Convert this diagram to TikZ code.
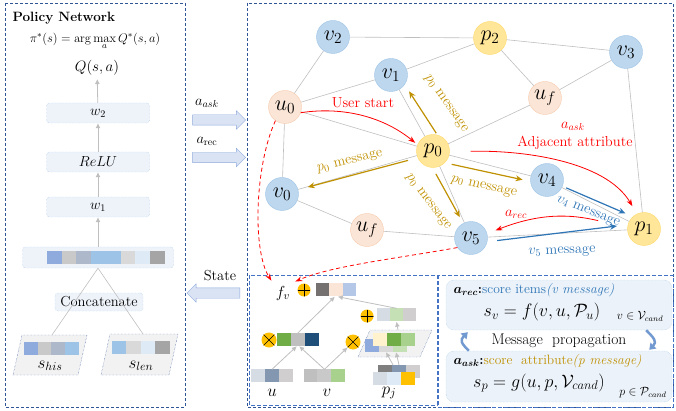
\RequirePackage{fix-cm}
\documentclass[tikz,border=0pt]{standalone}
\usepackage{bm}
\usetikzlibrary{arrows.meta,calc,shapes.geometric,shapes.arrows}

\definecolor{framedark}{HTML}{2F5597}
\definecolor{framemid}{HTML}{4472C4}
\definecolor{vfill}{HTML}{BDD7EE}
\definecolor{vdraw}{HTML}{9DC3E6}
\definecolor{pfill}{HTML}{FFE699}
\definecolor{pdraw}{HTML}{FFD966}
\definecolor{ufill}{HTML}{FBE5D6}
\definecolor{udraw}{HTML}{F8CBAD}
\definecolor{edgegray}{HTML}{BFBFBF}
\definecolor{msggold}{HTML}{BF9000}
\definecolor{msgblue}{HTML}{2E75B6}
\definecolor{boxfill}{HTML}{EEF3FA}
\definecolor{arrowfill}{HTML}{DAE3F3}
\definecolor{arrowline}{HTML}{8FAADC}
\definecolor{scorefill}{HTML}{EBF2F9}
\definecolor{parafill}{HTML}{F2F2F2}
% vector cells
\definecolor{bluecell}{HTML}{8FAADC}
\definecolor{graycell}{HTML}{C9C9C9}
\definecolor{slatecell}{HTML}{ADB9CA}
\definecolor{skycell}{HTML}{9DC3E6}
\definecolor{lightcell}{HTML}{D9D9D9}
\definecolor{palecell}{HTML}{DEEBF7}
\definecolor{darkcell}{HTML}{A5A5A5}
\definecolor{peachcell}{HTML}{FBE5D6}
\definecolor{steelcell}{HTML}{B4C7E7}
\definecolor{ashcell}{HTML}{767171}
\definecolor{mistcell}{HTML}{D6DCE4}
\definecolor{sagecell}{HTML}{C5E0B4}
\definecolor{stonecell}{HTML}{D0CECE}
\definecolor{greencell}{HTML}{70AD47}
\definecolor{silvercell}{HTML}{BFBFBF}
\definecolor{navycell}{HTML}{1F4E79}
\definecolor{creamcell}{HTML}{FFF2CC}
\definecolor{mintcell}{HTML}{A9D18E}
\definecolor{duskcell}{HTML}{8497B0}
\definecolor{dimcell}{HTML}{7F7F7F}
\definecolor{goldcell}{HTML}{FFC000}

\newcommand{\vecCells}[3]{%
  \foreach \c [count=\i from 0] in {#3}
    \fill[\c] ([xshift=\i*#2]#1.north west) rectangle ++(#2,13);}

\begin{document}
\begin{tikzpicture}[x=1pt,y=-1pt,
    every node/.style={font=\fontsize{14.5}{16}\selectfont},
    v node/.style={circle,draw=vdraw,fill=vfill,minimum size=33,inner sep=0,font=\fontsize{22}{22}\selectfont},
    p node/.style={v node,draw=pdraw,fill=pfill},
    u node/.style={v node,draw=udraw,fill=ufill},
    panel/.style={draw=framedark,dash pattern=on 3pt off 2pt,line width=0.7},
    sub panel/.style={draw=framemid,dash pattern=on 4pt off 2pt,line width=0.9},
    net box/.style={draw=vdraw,densely dotted,fill=boxfill,rounded corners=3,minimum width=103,minimum height=20,inner sep=0},
    vec/.style={inner sep=0,minimum height=13},
    slant box/.style={draw=framedark,densely dotted,fill=parafill},
    block arrow/.style={single arrow,draw=arrowline,fill=arrowfill,minimum height=53,minimum width=18,inner sep=5,single arrow head extend=4},
    gray edge/.style={draw=edgegray,line width=0.6},
    gray arrow/.style={draw=edgegray,line width=0.8,-{Latex[length=5pt,width=5pt]}},
    gold arrow/.style={draw=msggold,line width=1.2,-{Stealth[length=7pt,width=6pt]}},
    blue arrow/.style={draw=msgblue,line width=1.2,-{Stealth[length=7pt,width=6pt]}},
    gold label/.style={text=msggold,inner sep=0},
    blue label/.style={text=msgblue,inner sep=0},
    red arrow/.style={draw=red,line width=0.8,-{Stealth[length=7pt,width=5pt]}},
    red dashed/.style={red arrow,dash pattern=on 4pt off 3pt},
    score box/.style={draw=vdraw,densely dotted,fill=scorefill,rounded corners=8,minimum width=226,inner sep=0},
    prop arrow/.style={draw=arrowline!70!msgblue,line width=2.5,-{Triangle[length=6pt,width=8pt]}},
    sym/.style={circle,fill=goldcell,inner sep=0},
    oplus/.style={sym,minimum size=13,path picture={\draw[line width=0.6] (path picture bounding box.north) -- (path picture bounding box.south) (path picture bounding box.west) -- (path picture bounding box.east);}},
    otimes/.style={sym,minimum size=15,path picture={\draw[line width=0.6] (path picture bounding box.north west) -- (path picture bounding box.south east) (path picture bounding box.north east) -- (path picture bounding box.south west);}}]

  \useasboundingbox (0,0) rectangle (676,411);

  % policy network
  \draw[panel] (5,3) rectangle (185,407);
  \node[anchor=west,font=\fontsize{13.5}{15}\selectfont\bfseries] (title) at (9,18) {Policy Network};
  \node[font=\fontsize{12.5}{14}\selectfont] (policy) at (95,41) {$\pi^{*}(s)=\arg\max\limits_{a}Q^{*}(s,a)$};
  \node[font=\fontsize{15}{17}\selectfont] (qsa) at (97,68) {$Q(s,a)$};
  \node[net box] (w2) at (98,113) {$w_2$};
  \node[net box] (relu) at (98,162) {$ReLU$};
  \node[net box] (w1) at (98,207) {$w_1$};
  \node[net box,minimum width=151,minimum height=21] (state) at (98,257.5) {};
  \node[vec,minimum width=118] (staterow) at (106,258) {};
  \vecCells{staterow}{14.75}{bluecell,graycell,slatecell,skycell,skycell,lightcell,palecell,darkcell}
  \node[net box,minimum width=88,minimum height=18] (concat) at (99,302) {Concatenate};
  \filldraw[slant box] (13,375) -- (22,335) -- (87,335) -- (78,375) -- cycle;
  \coordinate (histop) at (52,335);
  \node[vec,minimum width=55] (hisrow) at (51.5,349) {};
  \vecCells{hisrow}{13.75}{bluecell,graycell,slatecell,skycell}
  \node[font=\fontsize{17}{17}\selectfont] (hislab) at (50,366) {$s_{his}$};
  \filldraw[slant box] (101,375) -- (110,334) -- (178,334) -- (169,375) -- cycle;
  \coordinate (lentop) at (143,334);
  \node[vec,minimum width=58] (lenrow) at (141,348) {};
  \vecCells{lenrow}{14.5}{skycell,lightcell,palecell,darkcell}
  \node[font=\fontsize{17}{17}\selectfont] (lenlab) at (141,366) {$s_{len}$};

  \draw[gray edge] (state.south) -- (histop);
  \draw[gray edge] (state.south) -- (lentop);
  \draw[gray arrow] (state) -- (w1);
  \draw[gray arrow] (w1) -- (relu);
  \draw[gray arrow] (relu) -- (w2);
  \draw[gray arrow] (w2) -- (qsa);

  % actions and state
  \node[block arrow] (ask) at (216.5,120) {};
  \node (asklab) at (207,103) {$a_{ask}$};
  \node[block arrow] (rec) at (216.5,157.5) {};
  \node (reclab) at (207,141) {$a_{\mathrm{rec}}$};
  \node[block arrow,shape border rotate=180] (back) at (216,293) {};
  \node (statelab) at (220,276) {State};

  % graph
  \draw[panel] (247,3) rectangle (673,407);
  \node[v node] (v2) at (333,37) {$v_2$};
  \node[p node] (p2) at (490,38) {$p_2$};
  \node[v node] (v3) at (626,52) {$v_3$};
  \node[v node] (v1) at (391,75) {$v_1$};
  \node[u node] (u0) at (285,107) {$u_0$};
  \node[u node] (uf1) at (545,98) {$u_f$};
  \node[p node] (p0) at (433,151) {$p_0$};
  \node[v node] (v0) at (282,194) {$v_0$};
  \node[u node] (uf2) at (367,230) {$u_f$};
  \node[v node] (v4) at (547,180) {$v_4$};
  \node[v node] (v5) at (471,238) {$v_5$};
  \node[p node] (p1) at (644,229) {$p_1$};

  \path[gray edge]
    (v2) edge (u0)
    (v2) edge (p2)
    (u0) edge (v1)
    (v1) edge (p2)
    (v1) edge (p0)
    (p2) edge (v3)
    (p2) edge (uf1)
    (v3) edge (uf1)
    (v3) edge (p1)
    (uf1) edge (p0)
    (u0) edge (p0)
    (u0) edge (v0)
    (v0) edge (p0)
    (v0) edge (uf2)
    (uf2) edge (v5)
    (p0) edge (v4)
    (p0) edge (v5)
    (v4) edge (p1)
    (v5) edge (p1);

  \draw[gold arrow,shorten <=2pt,shorten >=8pt] (p0.75) -- (v1.-35);
  \node[gold label,rotate=-55] (m1) at (446,104) {$p_0$ message};
  \draw[gold arrow,shorten <=10pt,shorten >=10pt] (p0.204) -- (v0.15);
  \node[gold label,rotate=14] (m0) at (350,162) {$p_0$ message};
  \draw[gold arrow,shorten <=7pt,shorten >=8pt] (p0.-45) -- (v4.185);
  \node[gold label,rotate=-13] (m4) at (484,187) {$p_0$ message};
  \draw[gold arrow,shorten <=7pt,shorten >=7pt] (p0.-92) -- (v5.118);
  \node[gold label,rotate=-53] (m5) at (428,202) {$p_0$ message};
  \draw[blue arrow,shorten <=4pt,shorten >=8pt] (v4.-22) -- (p1.132);
  \node[blue label,rotate=-22] (n4) at (588,212) {$v_4$ message};
  \draw[blue arrow,shorten <=10pt,shorten >=11pt] (v5.-13) -- (p1.165);
  \node[blue label,rotate=2] (n5) at (562,252) {$v_5$ message};

  \draw[red arrow,shorten >=3pt] (u0.-20) .. controls (345,106) and (385,118) .. (p0.158);
  \node[text=red] (start) at (363,103) {User start};
  \draw[red arrow,shorten <=21pt,shorten >=9pt] (p0.-3) .. controls (520,150) and (605,160) .. (p1.115);
  \node[text=red] (adjask) at (573,126) {$a_{ask}$};
  \node[text=red] (adj) at (575,143) {Adjacent attribute};
  \draw[red arrow,shorten <=30pt,shorten >=9pt] (p1.175) .. controls (570,214) and (540,213) .. (v5.15);
  \node[text=red] (reclab2) at (516,214) {$a_{rec}$};

  % embedding
  \draw[sub panel] (249,275) rectangle (437,405);
  \node[font=\fontsize{16}{16}\selectfont] (fv) at (283,293) {$f_v$};
  \node[oplus] (oplus1) at (304,290) {};
  \node[vec,minimum width=40.5] (fvrow) at (336,290) {};
  \vecCells{fvrow}{13.5}{ashcell,peachcell,steelcell}
  \node[oplus] (oplus2) at (367,316) {};
  \node[vec,minimum width=39] (prow) at (396.5,315) {};
  \vecCells{prow}{13}{mistcell,sagecell,stonecell}
  \node[otimes] (otimes1) at (269,340) {};
  \node[vec,minimum width=42] (leftrow) at (298,339.5) {};
  \vecCells{leftrow}{14}{greencell,silvercell,navycell}
  \filldraw[slant box] (358,357) -- (370,330) -- (432,330) -- (420,357) -- cycle;
  \coordinate (pjtop) at (398,330);
  \node[vec,minimum width=42] (pjinback) at (386,345.5) {};
  \vecCells{pjinback}{14}{bluecell,lightcell,sagecell}
  \node[vec,minimum width=42] (pjinfront) at (394,339.5) {};
  \vecCells{pjinfront}{14}{creamcell,greencell,mintcell}
  \node[otimes] (otimes2) at (353,342) {};
  \node[vec,minimum width=42] (urow) at (272,376) {};
  \vecCells{urow}{14}{mistcell,duskcell,stonecell}
  \node[font=\fontsize{17}{17}\selectfont] (ulab) at (272,393) {$u$};
  \node[vec,minimum width=41] (vrow) at (324.5,376) {};
  \vecCells{vrow}{13.67}{silvercell,graycell,mintcell}
  \node[font=\fontsize{17}{17}\selectfont] (vlab) at (327,393) {$v$};
  \node[vec,minimum width=42] (pjback) at (399,371.5) {};
  \vecCells{pjback}{14}{dimcell,duskcell,stonecell}
  \node[vec,minimum width=42] (pjfront) at (394,378.5) {};
  \vecCells{pjfront}{14}{mistcell,palecell,goldcell}
  \node[font=\fontsize{17}{17}\selectfont] (pjlab) at (389,393) {$p_j$};

  \draw[gray arrow] (urow.north) -- (leftrow.-100);
  \draw[gray arrow] (vrow.north) -- (leftrow.-80);
  \draw[gray arrow] (vrow.north) -- (otimes2.south west);
  \draw[gray arrow] (leftrow.north) -- (fvrow.-100);
  \draw[gray arrow] (prow.north) -- (fvrow.-75);
  \draw[gray arrow] (pjtop) -- (prow.south);
  \draw[gray arrow] ([xshift=-6]pjback.north) -- (pjinback.south);
  \draw[gray arrow] (pjback.north) -- ([xshift=10]pjinback.south);

  \draw[red dashed,shorten >=2pt] (u0.-125) .. controls (255,165) and (252,250) .. (fv.north west);
  \draw[red dashed,shorten >=2pt] (v5.215) .. controls (400,258) and (330,266) .. (fv.north east);

  % scores
  \draw[sub panel] (438,275) rectangle (673,407);
  \node[score box,minimum height=50] (recbox) at (559,305) {};
  \node[anchor=west,font=\fontsize{13.5}{15}\selectfont] (rectext) at (450,290)
    {$\bm{a_{rec}}$\textbf{:}\textcolor{msgblue}{score items\textit{(v message)}}};
  \node[font=\fontsize{18}{20}\selectfont] (sv) at (542,312) {$s_v=f(v,u,\mathcal{P}_u)$};
  \node[font=\fontsize{12}{14}\selectfont] (vcand) at (640,316) {$v\in\mathcal{V}_{cand}$};
  \node[font=\fontsize{15.5}{17}\selectfont] (mp) at (559,341) {Message\ \ propagation};
  \node[score box,minimum height=51] (askbox) at (559,376.5) {};
  \node[anchor=west,font=\fontsize{13.5}{15}\selectfont] (asktext) at (450,361)
    {$\bm{a_{ask}}$\textbf{:}\textcolor{msggold}{score\ \ attribute\textit{(p message)}}};
  \node[font=\fontsize{18}{20}\selectfont] (sp) at (539,383) {$s_p=g(u,p,\mathcal{V}_{cand})$};
  \node[font=\fontsize{12}{14}\selectfont] (pcand) at (643,393) {$p\in\mathcal{P}_{cand}$};

  \draw[prop arrow] ($(askbox.north west)+(23,0)$) .. controls +(-8,-8) and +(-8,8) .. ($(recbox.south west)+(22,2)$);
  \draw[prop arrow] ($(recbox.south east)+(-26,0)$) .. controls +(8,8) and +(8,-8) .. ($(askbox.north east)+(-23,-1)$);
\end{tikzpicture}
\end{document}
